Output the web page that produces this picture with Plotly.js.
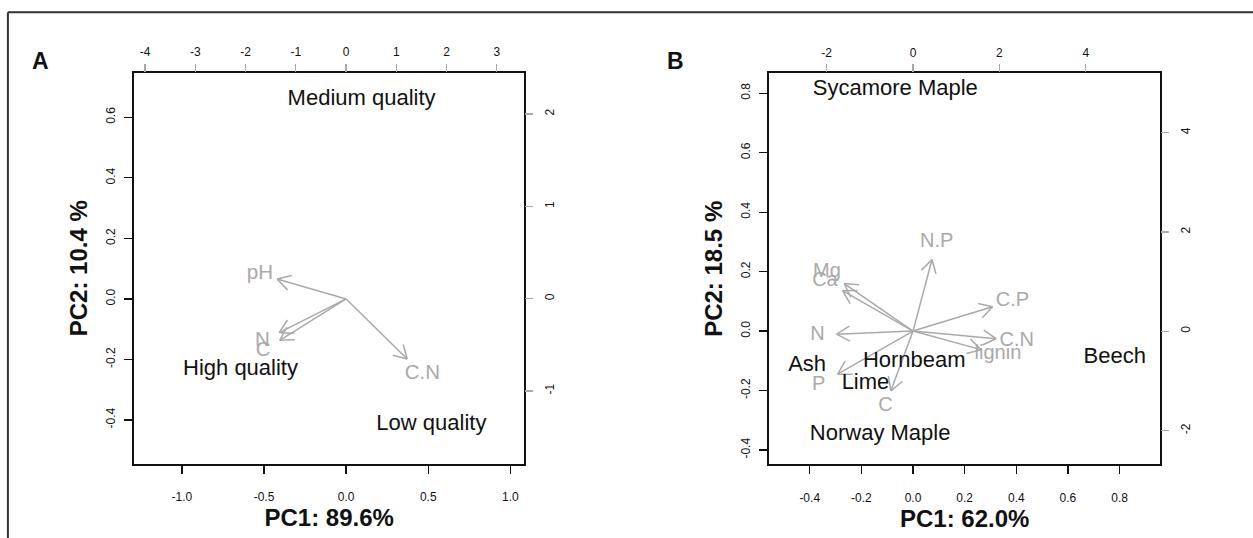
<!DOCTYPE html>
<html><head><meta charset="utf-8">
<script src="https://cdn.plot.ly/plotly-3.0.1.min.js"></script>
<style>html,body{margin:0;padding:0;background:#fff}</style>
</head><body><div id="chart" style="width:1253px;height:538px"></div>
<script>
// ---------- Panel A data ----------
const aScoreLabels = ["Medium quality", "High quality", "Low quality"];
const aScorePC1 = [0.31, -2.10, 1.70];
const aScorePC2 = [2.16, -0.77, -1.36];
const aLoadLabels = ["pH", "N", "C", "C.N"];
const aLoadPC1 = [-0.525, -0.509, -0.505, 0.465];
const aLoadPC2 = [0.082, -0.139, -0.171, -0.248];

// ---------- Panel B data ----------
const bScoreLabels = ["Sycamore Maple", "Ash", "Hornbeam", "Lime", "Beech", "Norway Maple"];
const bScorePC1 = [-0.41, -2.45, 0.03, -1.10, 4.67, -0.76];
const bScorePC2 = [4.86, -0.68, -0.61, -1.05, -0.53, -2.07];
const bLoadLabels = ["Mg", "Ca", "N.P", "C.P", "N", "C.N", "lignin", "P", "C"];
const bLoadPC1 = [-0.333, -0.341, 0.092, 0.385, -0.370, 0.402, 0.329, -0.365, -0.107];
const bLoadPC2 = [0.200, 0.170, 0.301, 0.102, -0.013, -0.032, -0.078, -0.181, -0.251];

// ---------- Tick labels ----------
const aBottomVals = [-1, -0.5, 0, 0.5, 1];
const aBottomText = ["-1.0", "-0.5", "0.0", "0.5", "1.0"];
const aLeftVals = [-0.4, -0.2, 0, 0.2, 0.4, 0.6];
const aLeftText = ["-0.4", "-0.2", "0.0", "0.2", "0.4", "0.6"];
const aTopVals = [-4, -3, -2, -1, 0, 1, 2, 3];
const aTopText = ["-4", "-3", "-2", "-1", "0", "1", "2", "3"];
const aRightVals = [-1, 0, 1, 2];
const aRightText = ["-1", "0", "1", "2"];
const bBottomVals = [-0.4, -0.2, 0, 0.2, 0.4, 0.6, 0.8];
const bBottomText = ["-0.4", "-0.2", "0.0", "0.2", "0.4", "0.6", "0.8"];
const bLeftVals = [-0.4, -0.2, 0, 0.2, 0.4, 0.6, 0.8];
const bLeftText = ["-0.4", "-0.2", "0.0", "0.2", "0.4", "0.6", "0.8"];
const bTopVals = [-2, 0, 2, 4];
const bTopText = ["-2", "0", "2", "4"];
const bRightVals = [-2, 0, 2, 4];
const bRightText = ["-2", "0", "2", "4"];

// ---------- Layout geometry ----------
const W = 1253, H = 538;
const FONT = "Liberation Sans, Arial, Helvetica, sans-serif";
const GRAY = "#a9a9a9";
const ARROW_SCALE = 0.8;   // R biplot draws arrows to 0.8 * loading
const HEAD_LEN = 15, HEAD_ANG = Math.PI / 6;

const aDomX = [134.1 / W, 524.3 / W], aDomY = [1 - 464 / H, 1 - 72.5 / H];
const bDomX = [769 / W, 1160.4 / W], bDomY = [1 - 464.3 / H, 1 - 73.3 / H];
const aRangeX = [-1.291, 1.085], aRangeY = [-0.5454, 0.748];
const aRangeX2 = [-4.218, 3.549], aRangeY2 = [-1.790, 2.450];
const bRangeX = [-0.5577, 0.958], bRangeY = [-0.448, 0.867];
const bRangeX2 = [-3.333, 5.727], bRangeY2 = [-2.678, 5.194];

function arrowTrace(px, py, dx, dy, rx, ry, xa, ya) {
  const kx = (dx[1] - dx[0]) * W / (rx[1] - rx[0]);
  const ky = (dy[1] - dy[0]) * H / (ry[1] - ry[0]);
  const X = [], Y = [];
  for (let i = 0; i < px.length; i++) {
    const tx = px[i] * ARROW_SCALE, ty = py[i] * ARROW_SCALE;
    X.push(0, tx, null); Y.push(0, ty, null);
    const th = Math.atan2(ty * ky, tx * kx);
    for (const s of [1, -1]) {
      const a = th + s * HEAD_ANG;
      X.push(tx - HEAD_LEN * Math.cos(a) / kx, tx, null);
      Y.push(ty - HEAD_LEN * Math.sin(a) / ky, ty, null);
    }
  }
  return {x: X, y: Y, xaxis: xa, yaxis: ya, mode: "lines", type: "scatter",
          line: {color: GRAY, width: 1.5}, hoverinfo: "skip", cliponaxis: false};
}
function textTrace(x, y, t, xa, ya, size, color) {
  return {x: x, y: y, text: t, xaxis: xa, yaxis: ya, mode: "text", type: "scatter",
          textposition: "middle center", textfont: {family: FONT, size: size, color: color},
          hoverinfo: "skip", cliponaxis: false};
}

const data = [
  arrowTrace(aLoadPC1, aLoadPC2, aDomX, aDomY, aRangeX, aRangeY, "x", "y"),
  textTrace(aLoadPC1, aLoadPC2, aLoadLabels, "x", "y", 20.5, GRAY),
  textTrace(aScorePC1, aScorePC2, aScoreLabels, "x2", "y2", 22, "#111"),
  arrowTrace(bLoadPC1, bLoadPC2, bDomX, bDomY, bRangeX, bRangeY, "x3", "y3"),
  textTrace(bLoadPC1, bLoadPC2, bLoadLabels, "x3", "y3", 20, GRAY),
  textTrace(bScorePC1, bScorePC2, bScoreLabels, "x4", "y4", 22, "#111")
];

const tickFont = {family: FONT, size: 12, color: "#111"};
const titleFont = {family: FONT, size: 24, color: "#111", weight: "bold"};
function mainX(dom, anchor, range, vals, text, title) {
  return {domain: dom, anchor: anchor, range: range, tickmode: "array", tickvals: vals, ticktext: text,
    ticks: "outside", ticklen: 8, tickwidth: 1.3, tickcolor: "#111", tickfont: tickFont,
    ticklabelstandoff: 13, showline: true, mirror: true, linewidth: 2, linecolor: "#111",
    showgrid: false, zeroline: false, fixedrange: true,
    title: {text: title, font: titleFont, standoff: 0}};
}
function mainY(dom, anchor, range, vals, text, title) {
  return {domain: dom, anchor: anchor, range: range, tickmode: "array", tickvals: vals, ticktext: text,
    ticks: "outside", ticklen: 8, tickwidth: 1.3, tickcolor: "#111", tickfont: tickFont, tickangle: -90,
    ticklabelstandoff: 4, showline: true, mirror: true, linewidth: 2, linecolor: "#111",
    showgrid: false, zeroline: false, fixedrange: true,
    title: {text: title, font: titleFont, standoff: 10}};
}
function secX(over, anchor, range, vals, text) {
  return {overlaying: over, anchor: anchor, side: "top", range: range, tickmode: "array",
    tickvals: vals, ticktext: text, ticks: "outside", ticklen: 8, tickwidth: 1.3, tickcolor: GRAY,
    tickfont: tickFont, ticklabelstandoff: 3, showline: false, showgrid: false, zeroline: false,
    fixedrange: true};
}
function secY(over, anchor, range, vals, text) {
  return {overlaying: over, anchor: anchor, side: "right", range: range, tickmode: "array",
    tickvals: vals, ticktext: text, ticks: "outside", ticklen: 8, tickwidth: 1.3, tickcolor: GRAY,
    tickfont: tickFont, tickangle: -90, ticklabelstandoff: 6, showline: false, showgrid: false,
    zeroline: false, fixedrange: true};
}

const layout = {
  width: W, height: H, margin: {l: 0, r: 0, t: 0, b: 0},
  paper_bgcolor: "#fff", plot_bgcolor: "#fff", showlegend: false, hovermode: false,
  font: {family: FONT, color: "#111"},
  xaxis: mainX(aDomX, "y", aRangeX, aBottomVals, aBottomText, "PC1: 89.6%"),
  yaxis: mainY(aDomY, "x", aRangeY, aLeftVals, aLeftText, "PC2: 10.4 %"),
  xaxis2: secX("x", "y", aRangeX2, aTopVals, aTopText),
  yaxis2: secY("y", "x", aRangeY2, aRightVals, aRightText),
  xaxis3: mainX(bDomX, "y3", bRangeX, bBottomVals, bBottomText, "PC1: 62.0%"),
  yaxis3: mainY(bDomY, "x3", bRangeY, bLeftVals, bLeftText, "PC2: 18.5 %"),
  xaxis4: secX("x3", "y3", bRangeX2, bTopVals, bTopText),
  yaxis4: secY("y3", "x3", bRangeY2, bRightVals, bRightText),
  shapes: [
    {type: "line", xref: "paper", yref: "paper", x0: 7.9 / W, x1: 7.9 / W, y0: 0, y1: 1 - 12.3 / H,
     line: {color: "#333", width: 2}},
    {type: "line", xref: "paper", yref: "paper", x0: 7.9 / W, x1: 1, y0: 1 - 12.3 / H, y1: 1 - 12.3 / H,
     line: {color: "#333", width: 2}}
  ],
  annotations: [
    {text: "A", xref: "paper", yref: "paper", x: 40.4 / W, y: 1 - 60.7 / H, xanchor: "center",
     yanchor: "middle", showarrow: false, font: {family: FONT, size: 23, color: "#111", weight: "bold"}},
    {text: "B", xref: "paper", yref: "paper", x: 675 / W, y: 1 - 60.7 / H, xanchor: "center",
     yanchor: "middle", showarrow: false, font: {family: FONT, size: 23, color: "#111", weight: "bold"}}
  ]
};

Plotly.newPlot("chart", data, layout, {staticPlot: true, displayModeBar: false});
</script>
</body></html>
